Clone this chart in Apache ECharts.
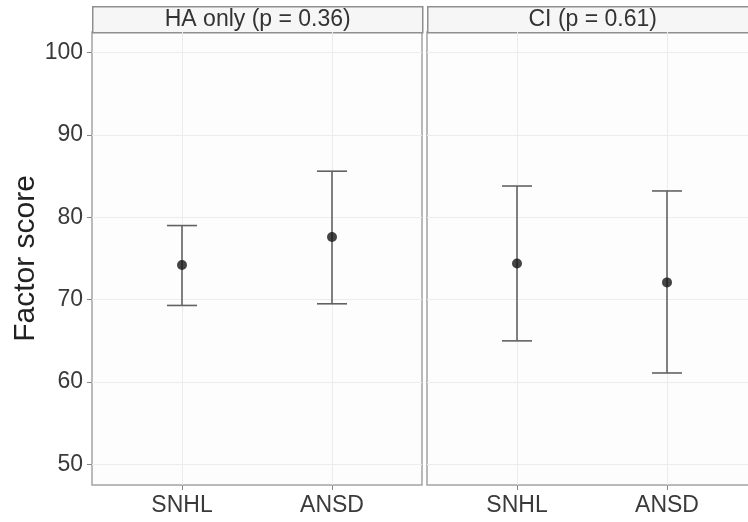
<!DOCTYPE html>
<html>
<head>
<meta charset="utf-8">
<script src="https://cdn.jsdelivr.net/npm/echarts@6/dist/echarts.min.js"></script>
<style>
  html, body { margin: 0; padding: 0; background: #fff; }
  #chart { width: 748px; height: 522px; }
</style>
</head>
<body>
<div id="chart"></div>
<script>
const groups = ['SNHL', 'ANSD']
const panels = ['HA only (p = 0.36)', 'CI (p = 0.61)']
const yTicks = [50, 60, 70, 80, 90, 100]

// mean and error-bar limits
const haMean = [74.2, 77.6]
const haLower = [69.3, 69.5]
const haUpper = [79.0, 85.6]
const ciMean = [74.4, 72.1]
const ciLower = [65.0, 61.1]
const ciUpper = [83.8, 83.2]

const font = '"Liberation Sans", Arial, sans-serif'
const xPos = [1, 2]

const barRows = (lo, hi) => xPos.map((x, i) => [x, lo[i], hi[i]])
const pointRows = (m) => xPos.map((x, i) => [x, m[i]])

function renderBar(params, api) {
  const x = api.value(0)
  const top = api.coord([x, api.value(2)])
  const bot = api.coord([x, api.value(1)])
  const half = api.size([0.1, 0])[0]
  const style = { stroke: '#626262', lineWidth: 1.6 }
  return {
    type: 'group',
    children: [
      { type: 'line', shape: { x1: top[0], y1: top[1], x2: bot[0], y2: bot[1] }, style },
      { type: 'line', shape: { x1: top[0] - half, y1: top[1], x2: top[0] + half, y2: top[1] }, style },
      { type: 'line', shape: { x1: bot[0] - half, y1: bot[1], x2: bot[0] + half, y2: bot[1] }, style }
    ]
  }
}

// the right panel runs past the edge of the picture, as in the original
const grids = [
  { left: 92, top: 32, width: 330, height: 453 },
  { left: 427, top: 32, width: 330, height: 453 }
]

const option = {
  animation: false,
  grid: grids.map(g => ({
    ...g,
    outerBoundsMode: 'none',
    containLabel: false,
    show: true,
    backgroundColor: '#fdfdfd',
    borderColor: '#a3a3a3',
    borderWidth: 1.5
  })),
  xAxis: grids.map((g, i) => ({
    type: 'value',
    gridIndex: i,
    min: 0.4,
    max: 2.6,
    axisLine: { show: false },
    axisTick: { show: true, customValues: xPos, length: 5, lineStyle: { color: '#888' } },
    axisLabel: {
      customValues: xPos,
      formatter: v => groups[Math.round(v) - 1] || '',
      color: '#3a3a3a', fontSize: 23, fontFamily: font, margin: 9
    },
    splitLine: { show: true, lineStyle: { color: '#ececec', width: 1 } }
  })),
  yAxis: grids.map((g, i) => ({
    type: 'value',
    gridIndex: i,
    min: 47.5,
    max: 102.5,
    name: i === 0 ? 'Factor score' : '',
    nameLocation: 'middle',
    nameGap: 48,
    nameTextStyle: { fontSize: 30, color: '#222', fontFamily: font },
    axisLine: { show: false },
    axisTick: { show: i === 0, customValues: yTicks, length: 5, lineStyle: { color: '#888' } },
    axisLabel: {
      show: i === 0,
      customValues: yTicks,
      color: '#3a3a3a', fontSize: 23, fontFamily: font, margin: 9
    },
    splitLine: { show: true, lineStyle: { color: '#ececec', width: 1 } }
  })),
  graphic: grids.map((g, i) => ({
    type: 'group',
    left: g.left,
    top: 6,
    children: [
      { type: 'rect', shape: { x: 0, y: 0, width: g.width, height: 26 },
        style: { fill: '#f6f6f6', stroke: '#8f8f8f', lineWidth: 1.5 } },
      { type: 'text', x: g.width / 2, y: 13,
        style: { text: panels[i], fill: '#333', font: '23px ' + font, align: 'center', verticalAlign: 'middle' } }
    ]
  })),
  series: [
    { type: 'custom', xAxisIndex: 0, yAxisIndex: 0, renderItem: renderBar, data: barRows(haLower, haUpper) },
    { type: 'custom', xAxisIndex: 1, yAxisIndex: 1, renderItem: renderBar, data: barRows(ciLower, ciUpper) },
    { type: 'scatter', xAxisIndex: 0, yAxisIndex: 0, symbolSize: 10, itemStyle: { color: '#151515' }, data: pointRows(haMean) },
    { type: 'scatter', xAxisIndex: 1, yAxisIndex: 1, symbolSize: 10, itemStyle: { color: '#151515' }, data: pointRows(ciMean) }
  ]
}

const chart = echarts.init(document.getElementById('chart'))
chart.setOption(option)
</script>
</body>
</html>
